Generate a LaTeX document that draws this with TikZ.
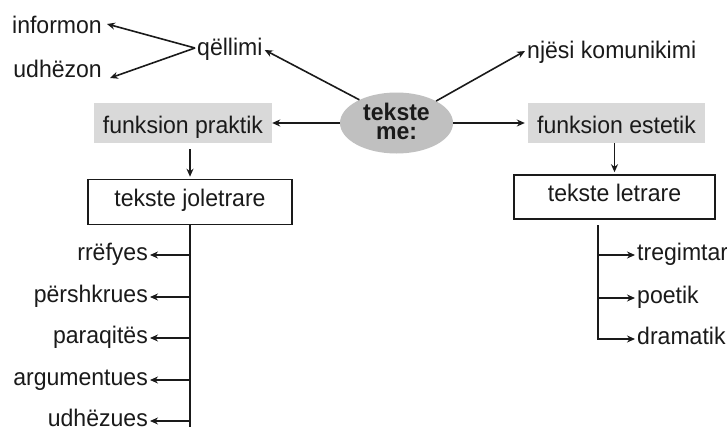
\documentclass[tikz,border=0pt]{standalone}
\usepackage{fontspec}
\setmainfont{Liberation Sans}[FakeStretch=0.96]
\usetikzlibrary{arrows.meta,shapes.geometric,calc}
\definecolor{ink}{HTML}{1A1A1A}
\definecolor{grayfill}{HTML}{D9D9D9}
\definecolor{grayell}{HTML}{C0C0C0}
\begin{document}
\begin{tikzpicture}[x=1pt,y=-1pt,
  font=\fontsize{24}{26}\selectfont,
  lbl/.style={inner sep=2pt,text height=14pt,text depth=4pt,text=ink},
  ln/.style={draw=ink,line width=1.6pt},
  arr/.style={draw=ink,line width=1.6pt,-{Stealth[length=8pt,width=7pt]}},
  graybox/.style={fill=grayfill,minimum height=40pt,inner sep=0pt,text height=20pt,text depth=0pt,text=ink},
  whitebox/.style={draw=ink,line width=1.6pt,fill=white,minimum height=45pt,inner sep=0pt,text height=14pt,text depth=5pt,text=ink},
  ellnode/.style={ellipse,fill=grayell,minimum width=113pt,minimum height=61pt,inner sep=0pt,align=center,text=ink,
    font=\fontsize{24}{19}\selectfont\bfseries}]
\fill[white] (0,0) rectangle (727,426);
\useasboundingbox (0,0) rectangle (727,426);

% centre
\node[ellnode] (ell) at (396.5,123) {tekste\\me:\rule[-4pt]{0pt}{0pt}};

% top labels
\node[lbl,anchor=east] (inf) at (104,28) {informon};
\node[lbl,anchor=east] (udh) at (104,72) {udhëzon};
\node[lbl,anchor=west] (qe) at (195,50) {qëllimi};
\node[lbl,anchor=west] (nj) at (525,53) {njësi komunikimi};

% function boxes
\node[graybox,minimum width=178pt] (fp) at (183,123) {funksion praktik};
\node[graybox,minimum width=177pt] (fe) at (616.5,123) {funksion estetik};

% text boxes
\node[whitebox,minimum width=204pt] (tj) at (190,202) {tekste joletrare};
\node[whitebox,minimum width=201pt,minimum height=44pt] (tl) at (614.5,197) {tekste letrare};

% left branch labels
\node[lbl,anchor=east] (l1) at (150,255) {rrëfyes};
\node[lbl,anchor=east] (l2) at (150,297) {përshkrues};
\node[lbl,anchor=east] (l3) at (150,338) {paraqitës};
\node[lbl,anchor=east] (l4) at (150,380) {argumentues};
\node[lbl,anchor=east] (l5) at (150,421) {udhëzues};

% right branch labels
\node[lbl,anchor=west] (r1) at (635,255) {tregimtar};
\node[lbl,anchor=west] (r2) at (635,298) {poetik};
\node[lbl,anchor=west] (r3) at (635,339) {dramatik};

\coordinate (lbot) at (190,430);
\coordinate (rtop) at (598,225);

% connectors
\draw[arr] (ell.148) -- (qe.east);
\draw[arr] ([yshift=2pt]qe.west) -- ([xshift=3pt,yshift=4pt]inf.east);
\draw[arr] ([yshift=2pt]qe.west) -- ([xshift=6pt,yshift=-6pt]udh.east);
\draw[arr] (ell.29) -- ([yshift=2pt]nj.west);
\draw[arr] (ell.west) -- (fp.east);
\draw[arr,shorten >=3pt] (ell.east) -- (fe.west);
\draw[arr,shorten <=6pt,shorten >=2pt] (tj.north |- fp.south) -- (tj.north);
\draw[arr,shorten >=2pt] (tl.north |- fe.south) -- (tl.north);

\draw[ln] (tj.south) -- (lbot);
\foreach \n in {l1,l2,l3,l4,l5}
  \draw[arr] (tj.south |- \n.east) -- (\n.east);

\draw[arr] (rtop) |- (r3.west);
\draw[arr] (rtop |- r1.west) -- (r1.west);
\draw[arr] (rtop |- r2.west) -- (r2.west);
\end{tikzpicture}
\end{document}
